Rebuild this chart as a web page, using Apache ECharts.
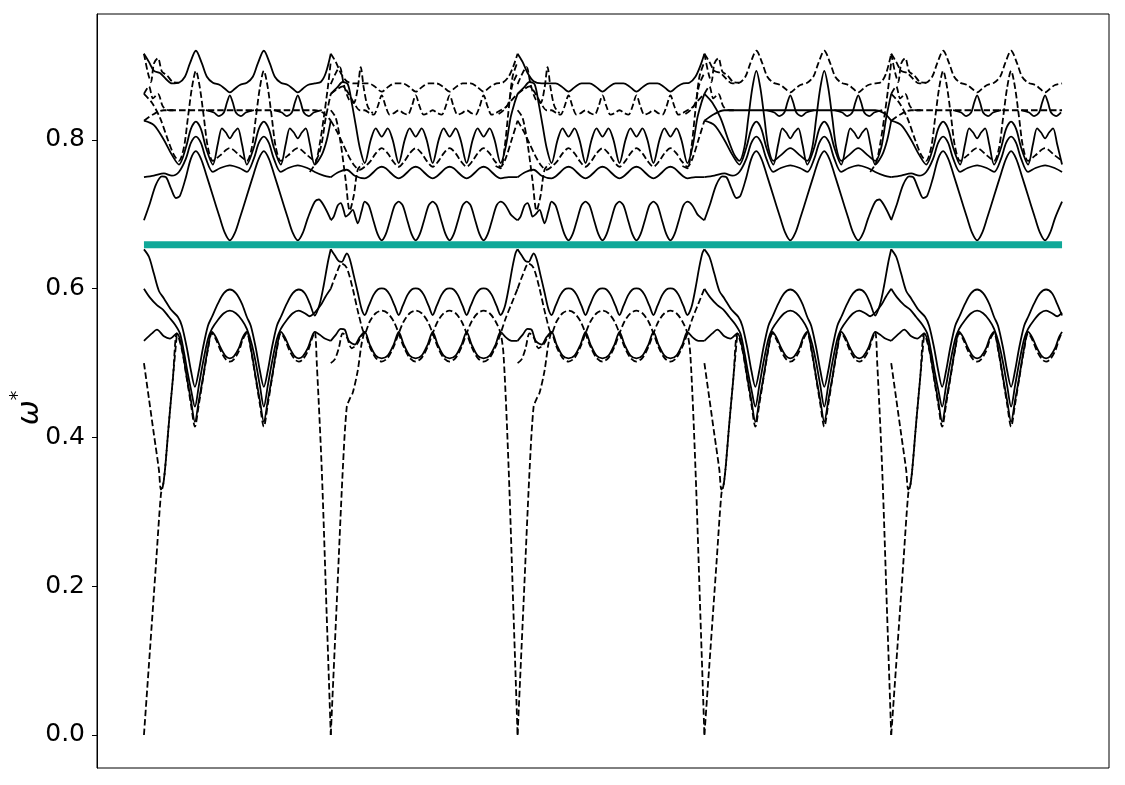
<!DOCTYPE html>
<html><head><meta charset="utf-8">
<script src="https://cdn.jsdelivr.net/npm/echarts@6/dist/echarts.min.js"></script>
<style>html,body{margin:0;padding:0;background:#fff}#c{width:1125px;height:785px}</style>
</head><body><div id="c"></div>
<script>
// ---------- DATA (t = position along each path segment) ----------
const Y_TICKS = [0.0, 0.2, 0.4, 0.6, 0.8];
const GAP_LEVEL = 0.659;
const PATH_LENGTH = 919;

// segments of the k-path: offset of each segment start and its length, pattern used
const SEG_NAMES = ['A', 'B', 'C', 'D', 'E'];
const SEG_START = [0, 187, 374, 561, 748];
const SEG_LEN = [187, 187, 187, 187, 171];
const SEG_PATTERN = ['A', 'B', 'B', 'A', 'A'];

// ---- pattern A, upper band ----
const PA_T = [[0,0.916],[5,0.905],[10,0.893],[16,0.89],[22,0.882],[28,0.876],[35,0.877],[41,0.885],[46,0.903],[52,0.92],[58,0.903],[63,0.885],[69,0.877],[76,0.874],[81,0.869],[86,0.864],[91,0.869],[96,0.874],[103,0.877],[109,0.885],[114,0.903],[120,0.92],[126,0.903],[131,0.885],[137,0.877],[144,0.874],[149,0.869],[154,0.864],[159,0.869],[164,0.874],[171,0.876],[177,0.878],[182,0.89],[187,0.916]];
const PA_S = [[0,0.862],[8,0.85],[16,0.83],[24,0.80],[30,0.78],[35,0.772],[40,0.79],[44,0.83],[48,0.87],[52,0.893],[56,0.87],[60,0.83],[64,0.79],[69,0.772],[76,0.779],[86,0.789],[96,0.779],[103,0.772],[108,0.79],[112,0.83],[116,0.87],[120,0.893],[124,0.87],[128,0.83],[132,0.79],[137,0.772],[144,0.779],[154,0.789],[164,0.779],[171,0.772],[177,0.79],[182,0.83],[187,0.862]];
const PA_X = [[0,0.826],[10,0.82],[20,0.80],[28,0.78],[35,0.767],[42,0.79],[47,0.815],[52,0.8246],[57,0.815],[62,0.79],[69,0.767],[74,0.795],[78,0.8157],[82,0.81],[86,0.8023],[90,0.81],[94,0.8157],[98,0.795],[103,0.767],[110,0.79],[115,0.815],[120,0.8246],[125,0.815],[130,0.79],[137,0.767],[142,0.795],[146,0.8157],[150,0.81],[154,0.8023],[158,0.81],[162,0.8157],[166,0.795],[171,0.767],[178,0.78],[183,0.80],[187,0.826]];
const PA_Y = [[0,0.75],[10,0.752],[20,0.755],[28,0.752],[35,0.757],[42,0.775],[47,0.796],[52,0.8045],[57,0.796],[62,0.775],[69,0.757],[76,0.762],[86,0.766],[96,0.762],[103,0.757],[110,0.775],[115,0.796],[120,0.8045],[125,0.796],[130,0.775],[137,0.757],[144,0.762],[154,0.766],[164,0.762],[171,0.757],[180,0.752],[187,0.75]];
const PA_FLAT = [[0,0.826],[10,0.835],[20,0.84],[100,0.84],[171,0.84],[180,0.836],[187,0.826]];
const PA_L3A = [[62,0.84],[70,0.837],[75,0.832],[80,0.837],[83,0.85],[86,0.86],[89,0.85],[92,0.837],[97,0.832],[102,0.837],[110,0.84]];
const PA_L3B = [[130,0.84],[138,0.837],[143,0.832],[148,0.837],[151,0.85],[154,0.86],[157,0.85],[160,0.837],[165,0.832],[170,0.837],[178,0.84]];
const PA_U1 = [[0,0.692],[6,0.715],[12,0.74],[18,0.751],[22,0.75],[27,0.735],[32,0.722],[36,0.725],[42,0.75],[47,0.775],[52,0.785],[57,0.775],[62,0.755],[69,0.725],[76,0.695],[81,0.675],[86,0.665],[91,0.675],[96,0.695],[103,0.725],[110,0.755],[115,0.775],[120,0.785],[125,0.775],[130,0.755],[137,0.725],[144,0.695],[149,0.675],[154,0.665],[159,0.675],[164,0.695],[171,0.717],[175,0.72],[180,0.712],[187,0.693]];
const PA_MX1 = [[0,0.916],[4,0.89],[7,0.878],[10,0.903],[14,0.91],[18,0.892],[23,0.887],[29,0.878],[35,0.877]];
const PA_MX2 = [[0,0.862],[5,0.872],[9,0.856],[14,0.862],[19,0.845],[25,0.84],[32,0.84]];
const PA_MX4 = [[166,0.757],[172,0.77],[176,0.795],[180,0.83],[184,0.87],[187,0.905]];

// ---- pattern A, lower band ----
const PA_D1 = [[0,0.653],[5,0.643],[10,0.62],[15,0.597],[20,0.587],[27,0.572],[34,0.562],[38,0.55],[43,0.52],[47,0.49],[51,0.468],[55,0.49],[59,0.52],[64,0.55],[68,0.562],[74,0.58],[80,0.594],[86,0.599],[92,0.594],[98,0.58],[103,0.562],[107,0.55],[112,0.52],[116,0.49],[120,0.468],[124,0.49],[128,0.52],[133,0.55],[137,0.562],[143,0.58],[149,0.594],[155,0.599],[161,0.594],[166,0.58],[171,0.564],[176,0.58],[180,0.605],[184,0.635],[187,0.653]];
const PA_D2 = [[0,0.60],[6,0.588],[13,0.578],[19,0.572],[25,0.562],[31,0.552],[36,0.54],[40,0.515],[44,0.485],[47,0.465],[51,0.4415],[55,0.47],[59,0.50],[64,0.532],[68,0.546],[74,0.558],[80,0.567],[86,0.5705],[92,0.567],[98,0.558],[103,0.546],[108,0.525],[112,0.50],[116,0.47],[120,0.4415],[124,0.47],[128,0.50],[133,0.532],[137,0.546],[143,0.558],[149,0.567],[155,0.5705],[161,0.567],[166,0.563],[171,0.568],[177,0.578],[182,0.59],[187,0.60]];
const PA_D3 = [[0,0.53],[8,0.54],[13,0.545],[20,0.536],[26,0.533],[33,0.54],[38,0.52],[43,0.48],[47,0.45],[51,0.421],[55,0.45],[59,0.48],[64,0.52],[68,0.542],[72,0.535],[77,0.52],[82,0.509],[86,0.5065],[90,0.509],[95,0.52],[99,0.535],[103,0.542],[107,0.52],[112,0.48],[116,0.45],[120,0.421],[124,0.45],[128,0.48],[133,0.52],[137,0.542],[141,0.535],[146,0.52],[151,0.509],[155,0.5065],[159,0.509],[164,0.52],[168,0.535],[171,0.542],[176,0.538],[181,0.533],[187,0.53]];
const PA_D4 = [[0,0],[6,0.114],[12,0.229],[17,0.324],[19,0.335],[21,0.356],[25,0.42],[29,0.48],[33,0.54],[38,0.518],[43,0.478],[47,0.445],[51,0.4146],[55,0.445],[59,0.478],[64,0.518],[68,0.54],[72,0.532],[77,0.516],[82,0.505],[86,0.502],[90,0.505],[95,0.516],[99,0.532],[103,0.54],[107,0.518],[112,0.478],[116,0.445],[120,0.4146],[124,0.445],[128,0.478],[133,0.518],[137,0.54],[141,0.532],[146,0.516],[151,0.505],[155,0.502],[159,0.505],[164,0.516],[168,0.532],[171,0.542],[173,0.50],[178,0.356],[183,0.158],[187,0]];
const PA_AC2 = [[0,0.50],[5,0.452],[10,0.404],[15,0.356],[17,0.33],[19,0.335],[21,0.356],[25,0.42],[29,0.48],[33,0.54]];

// ---- pattern B, upper band ----
const PB_U6 = [[0,0.916],[5,0.905],[10,0.89],[16,0.879],[24,0.876],[38,0.876],[44,0.872],[51,0.865],[58,0.872],[64,0.876],[72,0.876],[78,0.872],[85,0.865],[92,0.872],[98,0.876],[106,0.876],[112,0.872],[119,0.865],[126,0.872],[132,0.876],[140,0.876],[146,0.872],[153,0.865],[160,0.872],[166,0.876],[172,0.877],[178,0.885],[183,0.9],[187,0.916]];
const PB_U5 = [[0,0.862],[6,0.868],[12,0.872],[18,0.862],[24,0.848],[29,0.84],[34,0.84],[39,0.836],[43,0.834],[47,0.845],[51,0.86],[55,0.845],[59,0.834],[63,0.836],[68,0.84],[73,0.836],[77,0.834],[81,0.845],[85,0.86],[89,0.845],[93,0.834],[97,0.836],[102,0.84],[107,0.836],[111,0.834],[115,0.845],[119,0.86],[123,0.845],[127,0.834],[131,0.836],[136,0.84],[141,0.836],[145,0.834],[149,0.845],[153,0.86],[157,0.845],[161,0.834],[165,0.836],[170,0.84],[176,0.845],[182,0.855],[187,0.862]];
const PB_U4 = [[0,0.862],[6,0.87],[12,0.878],[17,0.875],[21,0.85],[25,0.82],[29,0.79],[34,0.769],[40,0.80],[45,0.8157],[51,0.8045],[57,0.8157],[62,0.80],[68,0.769],[74,0.80],[79,0.8157],[85,0.8045],[91,0.8157],[96,0.80],[102,0.769],[108,0.80],[113,0.8157],[119,0.8045],[125,0.8157],[130,0.80],[136,0.769],[142,0.80],[147,0.8157],[153,0.8045],[159,0.8157],[164,0.80],[170,0.769],[175,0.79],[180,0.83],[184,0.85],[187,0.862]];
const PB_U3 = [[0,0.826],[6,0.812],[12,0.795],[18,0.778],[24,0.765],[29,0.76],[34,0.764],[40,0.772],[45,0.782],[51,0.789],[57,0.782],[62,0.772],[68,0.764],[74,0.772],[79,0.782],[85,0.789],[91,0.782],[96,0.772],[102,0.764],[108,0.772],[113,0.782],[119,0.789],[125,0.782],[130,0.772],[136,0.764],[142,0.772],[147,0.782],[153,0.789],[159,0.782],[164,0.772],[170,0.764],[175,0.775],[181,0.80],[187,0.826]];
const PB_U2 = [[0,0.75],[8,0.757],[16,0.76],[24,0.752],[34,0.7485],[38,0.751],[43,0.757],[47,0.762],[51,0.764],[55,0.762],[59,0.757],[64,0.751],[68,0.7485],[72,0.751],[77,0.757],[81,0.762],[85,0.764],[89,0.762],[93,0.757],[98,0.751],[102,0.7485],[106,0.751],[111,0.757],[115,0.762],[119,0.764],[123,0.762],[127,0.757],[132,0.751],[136,0.7485],[140,0.751],[145,0.757],[149,0.762],[153,0.764],[157,0.762],[161,0.757],[166,0.751],[170,0.7485],[178,0.75],[187,0.75]];
const PB_U1 = [[0,0.692],[3,0.697],[7,0.712],[10,0.715],[13,0.705],[15,0.697],[18,0.70],[22,0.706],[25,0.695],[27,0.688],[31,0.705],[34,0.717],[38,0.712],[43,0.69],[47,0.673],[51,0.665],[55,0.673],[59,0.69],[64,0.712],[68,0.717],[72,0.712],[77,0.69],[81,0.673],[85,0.665],[89,0.673],[93,0.69],[98,0.712],[102,0.717],[106,0.712],[111,0.69],[115,0.673],[119,0.665],[123,0.673],[127,0.69],[132,0.712],[136,0.717],[140,0.712],[145,0.69],[149,0.673],[153,0.665],[157,0.673],[161,0.69],[166,0.712],[170,0.717],[175,0.712],[180,0.70],[184,0.695],[187,0.692]];
const PB_MX1 = [[0,0.84],[5,0.83],[10,0.795],[15,0.745],[19,0.705],[23,0.725],[27,0.76],[32,0.768]];
const PB_MX2 = [[0,0.875],[5,0.89],[9,0.898],[13,0.875],[18,0.855],[23,0.85],[27,0.87],[30,0.898],[33,0.87],[37,0.845],[42,0.836]];
const PB_MX3 = [[165,0.765],[170,0.762],[174,0.79],[178,0.84],[182,0.885],[187,0.905]];
const PB_MX4 = [[168,0.835],[173,0.84],[178,0.85],[182,0.875],[187,0.89]];

// ---- pattern B, lower band ----
const PB_D1 = [[0,0.653],[4,0.645],[8,0.637],[11,0.636],[14,0.643],[16,0.6476],[19,0.64],[23,0.618],[27,0.595],[31,0.572],[34,0.5647],[38,0.577],[43,0.592],[47,0.599],[51,0.6005],[55,0.599],[59,0.592],[64,0.577],[68,0.5647],[72,0.577],[77,0.592],[81,0.599],[85,0.6005],[89,0.599],[93,0.592],[98,0.577],[102,0.5647],[106,0.577],[111,0.592],[115,0.599],[119,0.6005],[123,0.599],[127,0.592],[132,0.577],[136,0.5647],[140,0.577],[145,0.592],[149,0.599],[153,0.6005],[157,0.599],[161,0.592],[166,0.577],[170,0.5647],[174,0.575],[178,0.60],[182,0.63],[185,0.648],[187,0.653]];
const PB_WA = [[0,0.60],[5,0.618],[11,0.634],[16,0.628],[22,0.60],[28,0.565],[34,0.54],[39,0.556],[45,0.567],[51,0.5705],[57,0.567],[63,0.556],[68,0.54],[73,0.522],[79,0.507],[85,0.502],[91,0.507],[97,0.522],[102,0.54],[107,0.556],[113,0.567],[119,0.5705],[125,0.567],[131,0.556],[136,0.54],[141,0.522],[147,0.507],[153,0.502],[159,0.507],[165,0.522],[170,0.54],[175,0.56],[181,0.58],[187,0.60]];
const PB_WB = [[0,0],[6,0.178],[12,0.356],[16,0.441],[19,0.452],[22,0.46],[27,0.49],[31,0.527],[34,0.54],[39,0.522],[45,0.507],[51,0.502],[57,0.507],[63,0.522],[68,0.54],[73,0.556],[79,0.567],[85,0.5705],[91,0.567],[97,0.556],[102,0.54],[107,0.522],[113,0.507],[119,0.502],[125,0.507],[131,0.522],[136,0.54],[141,0.556],[147,0.567],[153,0.5705],[159,0.567],[165,0.556],[170,0.54],[173,0.51],[178,0.36],[183,0.16],[187,0]];
const PB_WC = [[0,0.53],[5,0.538],[10,0.546],[14,0.545],[18,0.53],[24,0.525],[29,0.535],[34,0.542],[39,0.525],[45,0.51],[51,0.5065],[57,0.51],[63,0.525],[68,0.542],[73,0.525],[79,0.51],[85,0.5065],[91,0.51],[97,0.525],[102,0.542],[107,0.525],[113,0.51],[119,0.5065],[125,0.51],[131,0.525],[136,0.542],[141,0.525],[147,0.51],[153,0.5065],[159,0.51],[165,0.525],[170,0.542],[175,0.535],[181,0.53],[187,0.53]];
const PB_S50 = [[0,0.50],[4,0.505],[8,0.52],[12,0.54],[16,0.535],[21,0.52],[26,0.525],[30,0.535],[34,0.542]];

// ---------- line sets and styles ----------
const PATTERNS = {
  A: {T:PA_T, S:PA_S, X:PA_X, Y:PA_Y, FL:PA_FLAT, L3A:PA_L3A, L3B:PA_L3B, U1:PA_U1, MX1:PA_MX1, MX2:PA_MX2, MX4:PA_MX4,
      D1:PA_D1, D2:PA_D2, D3:PA_D3, D4:PA_D4, AC2:PA_AC2},
  B: {U6:PB_U6, U5:PB_U5, U4:PB_U4, U3:PB_U3, U2:PB_U2, U1:PB_U1, MX1:PB_MX1, MX2:PB_MX2, MX3:PB_MX3, MX4:PB_MX4,
      D1:PB_D1, WA:PB_WA, WB:PB_WB, WC:PB_WC, S50:PB_S50}
};
const DASHED = {
  A: ['S','FL','MX1','MX2','MX4','D4','AC2'],
  B: ['U6','U5','U3','MX1','MX2','MX3','MX4','WA','WB','S50'],
  C: ['U5','U3','MX1','MX2','MX3','MX4','WA','WB','S50'],
  D: ['T','MX1','MX2','MX4','D4','AC2'],
  E: ['T','S','FL','MX1','MX2','MX4','D4','AC2']
};

const series = [];
SEG_NAMES.forEach((seg, i) => {
  const lines = PATTERNS[SEG_PATTERN[i]];
  Object.keys(lines).forEach(key => {
    const dashed = DASHED[seg].indexOf(key) >= 0;
    const data = lines[key].filter(p => p[0] <= SEG_LEN[i]).map(p => [p[0] + SEG_START[i], p[1]]);
    if (data.length < 2) return;
    series.push({
      type: 'line', data: data, showSymbol: false, symbol: 'none', smooth: 0.3,
      silent: true, animation: false, z: dashed ? 2 : 3,
      lineStyle: {color: '#000', width: 1.8, type: dashed ? [6.5, 3] : 'solid', cap: 'butt'}
    });
  });
});
series.push({
  type: 'line', data: [[0, GAP_LEVEL], [PATH_LENGTH, GAP_LEVEL]], showSymbol: false, symbol: 'none',
  silent: true, animation: false, z: 5,
  lineStyle: {color: '#10a898', width: 7, cap: 'butt'}
});

const chart = echarts.init(document.getElementById('c'), null, {renderer: 'canvas'});
chart.setOption({
  backgroundColor: '#fff',
  animation: false,
  grid: {left: 97, right: 16, top: 14, bottom: 17, containLabel: false, outerBoundsMode: 'none',
         show: true, borderColor: '#000', borderWidth: 1, backgroundColor: 'transparent'},
  xAxis: {type: 'value', min: -47, max: 966, show: false},
  yAxis: {
    type: 'value', min: -0.0444, max: 0.9694,
    splitLine: {show: false},
    axisLine: {show: true, onZero: false, lineStyle: {color: '#000', width: 1}},
    axisTick: {show: true, length: 5, customValues: Y_TICKS, lineStyle: {color: '#000', width: 1}},
    axisLabel: {customValues: Y_TICKS, formatter: v => v.toFixed(1), fontSize: 25, color: '#000', fontFamily: 'DejaVu Sans', margin: 12},
    name: '{w|ω}{s|*}',
    nameLocation: 'middle', nameGap: 52, nameRotate: 90, nameMoveOverlap: false,
    nameTextStyle: {
      color: '#000', fontFamily: 'DejaVu Sans', fontSize: 28, padding: [0, 34, 0, 0],
      rich: {
        w: {fontSize: 30, fontStyle: 'italic', fontFamily: 'DejaVu Sans', color: '#000', lineHeight: 36, verticalAlign: 'bottom'},
        s: {fontSize: 19, fontFamily: 'DejaVu Sans', color: '#000', lineHeight: 36, verticalAlign: 'top'}
      }
    }
  },
  series: series
});
</script></body></html>
